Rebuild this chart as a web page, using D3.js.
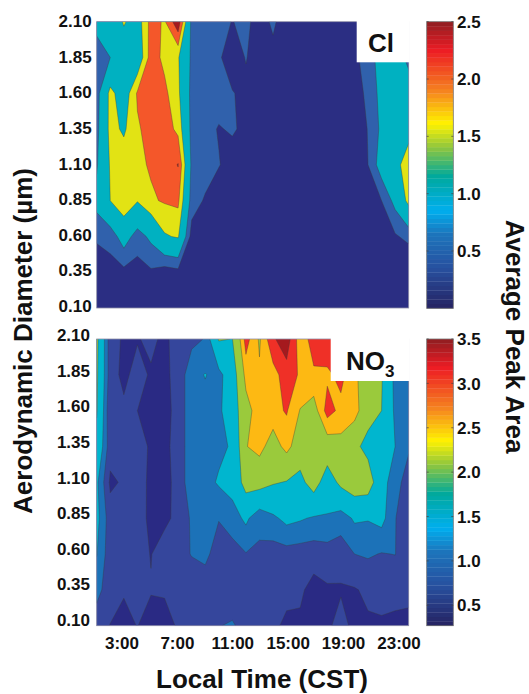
<!DOCTYPE html>
<html>
<head>
<meta charset="utf-8">
<script src="https://cdn.jsdelivr.net/npm/d3@7"></script>
<style>
  body { margin: 0; background: #fff; }
  text { font-family: "Liberation Sans", Arial, sans-serif; font-weight: bold; fill: #111; }
</style>
</head>
<body>
<script>
//Define data
const hours = d3.range(1, 25);
const diameters = [2.10, 1.85, 1.60, 1.35, 1.10, 0.85, 0.60, 0.35, 0.10];
const timeTicks = [3, 7, 11, 15, 19, 23];

// rows run from 2.10 um down to 0.10 um, columns from 1:00 to 24:00
const clValues = [
  [1.1,1.2,1.65,1.35,2.15,1.95,2.7,.75,.7,.6,.49,.58,.35,.56,.3,.25,.25,.25,.25,.4,.8,1.1,1.2,.8],
  [.6,.9,1.25,1.2,2.2,1.9,1.65,.8,.7,.55,.3,.52,.3,.4,.2,.2,.2,.2,.2,.4,.7,1.1,1.2,.75],
  [.7,1.75,1.3,2.05,2.15,2.1,1.7,.75,.65,.7,.52,.41,.2,.2,.2,.2,.2,.2,.2,.3,.6,1.05,1.2,1.2],
  [.75,1.75,1.53,1.95,2.15,2.2,1.9,.75,.65,.47,.55,.4,.15,.15,.15,.15,.15,.15,.15,.2,.52,1.0,1.3,1.5],
  [.85,1.65,1.85,1.92,2.04,2.15,2.42,.8,.7,.525,.3,.2,.15,.15,.15,.15,.15,.15,.15,.15,.5,1.15,1.5,1.75],
  [1.05,1.6,1.95,1.63,1.95,2.04,2.09,.7,.45,.2,.1,.1,.1,.1,.1,.1,.1,.1,.1,.1,.2,.5,1.05,1.75],
  [.6,.64,1.15,.7,1.01,1.55,1.65,.33,.1,.1,.1,.1,.1,.1,.1,.1,.1,.1,.1,.1,.1,.2,.45,.62],
  [.1,.35,.39,.34,.44,.3,.38,.1,.05,.05,.05,.05,.05,.05,.05,.05,.05,.05,.05,.05,.05,.05,.05,.05],
  [.05,.05,.05,.05,.05,.05,.05,.05,.05,.05,.05,.05,.05,.05,.05,.05,.05,.05,.05,.05,.05,.05,.05,.05]
];
const no3Values = [
  [2.2,.7,.5,.52,.65,.45,.75,.85,.97,2.1,2.04,3.2,2.65,3.35,3.6,2.85,3.2,3.3,3.1,2.5,2,1.4,1.1,.9],
  [2.15,.72,.45,.7,.5,.45,.7,1.2,1.37,1.2,1.7,2.85,2.75,2.9,3.25,3.0,3.0,2.98,3.15,2.8,2.4,2.1,1.2,1.05],
  [2.1,.6,.63,.55,.45,.4,.7,1.2,1.2,1.25,1.7,2.5,2.95,2.95,3.08,2.68,2.5,3.2,2.95,2.9,2.3,2.05,1.25,1.0],
  [1.85,.7,.7,.7,.5,.45,.7,1.2,1.15,1.25,1.4,2.68,2.85,2.47,2.85,2.4,2.4,2.45,2.56,2.2,1.85,1.6,1.35,1.0],
  [1.45,.48,.6,.65,.5,.4,.7,1.2,1.2,1.4,1.55,2.3,2.3,2.1,2.02,1.87,2.35,1.7,2.2,2.45,2.4,1.55,1.1,.77],
  [1.5,.72,.8,.7,.47,.42,.7,1.0,1.1,.97,1.14,1.45,1.03,1.26,1.48,1.4,1.3,1.3,1.12,1.415,1.38,1.5,.97,.65],
  [1.37,.7,.8,.75,.53,.82,.8,.97,1.05,.75,.8,.93,.9,.77,.79,.76,.74,.78,.77,.95,1.0,.93,.96,.65],
  [1.1,.7,.58,.7,.58,.58,.7,.7,.72,.72,.78,.75,.72,.68,.62,.62,.4,.5,.5,.52,.62,.6,.62,.6],
  [.7,.54,.45,.56,.38,.45,.58,.7,.75,.94,.98,.85,.75,.6,.5,.48,.35,.45,.75,.4,.5,.53,.5,.5]
];

const clLevels = [0, 0.5, 0.9, 1.6, 2.0, 2.4];
const clFills = ['#2b2e83', '#3061ac', '#00b1c1', '#e2e314', '#f4572a', '#a5191f'];
const no3Levels = [0, 0.55, 0.95, 1.35, 2.05, 2.7, 3.05, 3.4];
const no3Fills = ['#2a2a84', '#35469c', '#1c72b8', '#00b6cf', '#9aca3c', '#fdb913', '#ef3027', '#a5191e'];

const barStops = ['#262262', '#27509f', '#1c75bc', '#00aeef', '#00a99d', '#8dc63f', '#fff200', '#f58220', '#ed1c24', '#8f1d21'];
const barPositions = [0, .14, .26, .34, .46, .56, .645, .76, .9, 1];
const clBarTicks = [0.5, 1.0, 1.5, 2.0, 2.5];
const no3BarTicks = [0.5, 1.0, 1.5, 2.0, 2.5, 3.0, 3.5];

const width = 529, height = 694;
const left = 96.7, right = 408.7;
const barLeft = 426.7, barRight = 453.3;

let svg = d3.select('body').append('svg')
            .attr('width', width).attr('height', height)
            .style('display', 'block');

const barColor = d3.scaleLinear().domain(barPositions).range(barStops);

function panel(id, values, levels, fills, top, bottom, labelTop, labelRight, labelBottom) {
  const xscale = d3.scaleLinear().domain([1, 24]).range([left, right]);
  const yscale = d3.scaleLinear().domain([0, diameters.length - 1]).range([top, bottom]);

  svg.append('clipPath').attr('id', id)
     .append('rect').attr('x', left).attr('y', top)
     .attr('width', right - left).attr('height', bottom - top);

  // d3.contours puts a grid value at index + 0.5
  const path = d3.geoPath(d3.geoTransform({
    point(x, y) { this.stream.point(xscale(x + 0.5), yscale(y - 0.5)); }
  }));

  const contours = d3.contours()
    .size([hours.length, diameters.length])
    .thresholds(levels)(values.flat());

  svg.append('g').attr('clip-path', `url(#${id})`)
     .selectAll('path').data(contours).enter().append('path')
     .attr('d', path)
     .attr('fill', (d, i) => fills[i])
     .attr('stroke', '#3a3a3a').attr('stroke-opacity', 0.6).attr('stroke-width', 0.6);

  svg.append('rect').attr('x', left).attr('y', top)
     .attr('width', right - left).attr('height', bottom - top)
     .attr('fill', 'none').attr('stroke', '#8f8fa8').attr('stroke-width', 0.8);

  // hand placed labels in the original, a little off the grid
  const ylabel = d3.scaleLinear().domain([0, diameters.length - 1]).range([labelTop, labelBottom]);
  svg.append('g').selectAll('text').data(diameters).enter().append('text')
     .attr('x', labelRight).attr('y', (d, i) => ylabel(i))
     .attr('dy', '0.36em').attr('text-anchor', 'end').style('font-size', '17px')
     .text(d => d.toFixed(2));
}

function colorbar(ticks, domain, top, bottom) {
  const yscale = d3.scaleLinear().domain(domain).range([bottom, top]);
  const bands = d3.range(64);
  const bandH = (bottom - top) / bands.length;
  svg.append('g').selectAll('rect').data(bands).enter().append('rect')
     .attr('x', barLeft).attr('width', barRight - barLeft)
     .attr('y', d => bottom - (d + 1) * bandH).attr('height', bandH + 0.3)
     .attr('fill', d => barColor((d + 0.5) / bands.length));

  svg.append('rect').attr('x', barLeft).attr('y', top)
     .attr('width', barRight - barLeft).attr('height', bottom - top)
     .attr('fill', 'none').attr('stroke', '#777').attr('stroke-width', 0.8);

  const g = svg.append('g').selectAll('g').data(ticks).enter().append('g')
     .attr('transform', d => `translate(0, ${yscale(d)})`);
  g.append('line').attr('x1', barLeft).attr('x2', barLeft + 2).attr('stroke', '#444').attr('stroke-width', 0.7);
  g.append('line').attr('x1', barRight - 2).attr('x2', barRight).attr('stroke', '#444').attr('stroke-width', 0.7);
  g.append('text').attr('x', 457).attr('dy', '0.36em').style('font-size', '17px')
   .text(d => d.toFixed(1));
}

panel('clip-cl', clValues, clLevels, clFills, 21.7, 308, 21, 91.7, 306);
panel('clip-no3', no3Values, no3Levels, no3Fills, 339, 625.7, 335, 90, 620);

colorbar(clBarTicks, [0, 2.5], 21.7, 308.3);
colorbar(no3BarTicks, [0.27, 3.5], 339, 625.7);

// white label boxes
svg.append('rect').attr('x', 356.7).attr('y', 20).attr('width', 53).attr('height', 42.3).attr('fill', '#fff');
svg.append('rect').attr('x', 330.7).attr('y', 337).attr('width', 79).attr('height', 44).attr('fill', '#fff');

svg.append('text').attr('x', 368).attr('y', 52).style('font-size', '26px').text('Cl');
const no3Label = svg.append('text').attr('x', 346).attr('y', 370).style('font-size', '26px');
no3Label.append('tspan').text('NO');
no3Label.append('tspan').attr('dy', 7).style('font-size', '17px').text('3');

// time ticks
const xlabel = d3.scaleLinear().domain([3, 23]).range([122, 399]);
svg.append('g').selectAll('text').data(timeTicks).enter().append('text')
   .attr('x', d => xlabel(d)).attr('y', 649)
   .attr('text-anchor', 'middle').style('font-size', '17px')
   .text(d => d + ':00');

svg.append('text')
   .attr('x', 262).attr('y', 687.5)
   .attr('text-anchor', 'middle').style('font-size', '26px')
   .text('Local Time (CST)');

svg.append('text')
   .attr('transform', 'translate(32, 341) rotate(-90)')
   .attr('text-anchor', 'middle').style('font-size', '26px')
   .text('Aerodynamic Diameter (µm)');

svg.append('text')
   .attr('transform', 'translate(506, 336.5) rotate(90)')
   .attr('text-anchor', 'middle').style('font-size', '26px')
   .text('Average Peak Area');
</script>
</body>
</html>
